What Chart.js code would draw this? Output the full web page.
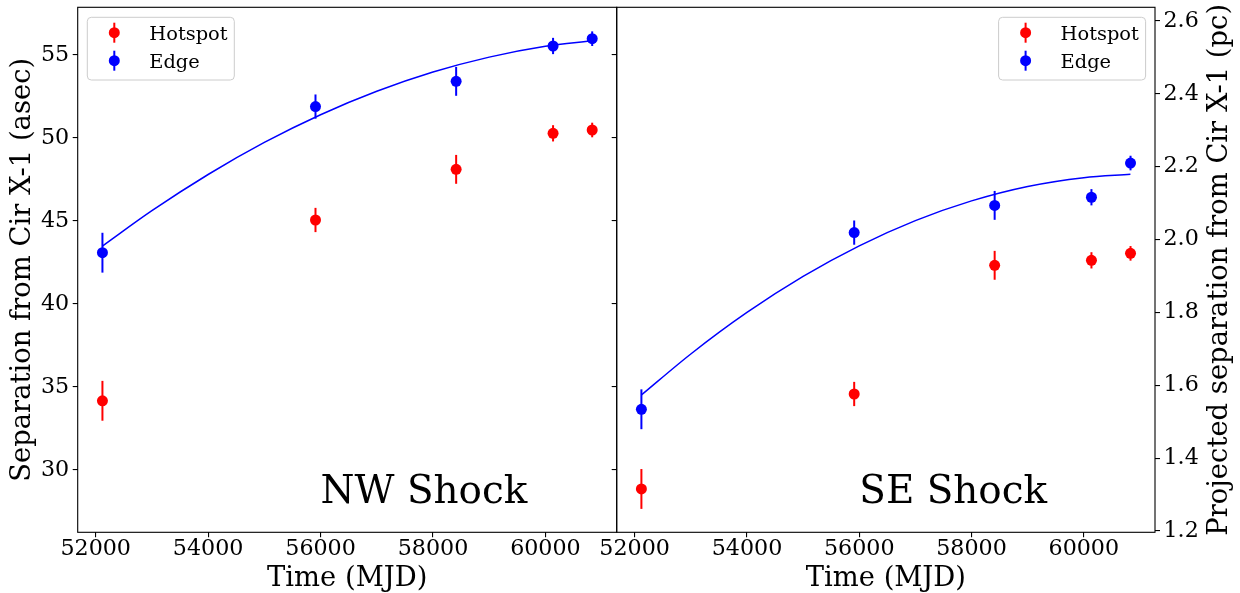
<!DOCTYPE html>
<html>
<head>
<meta charset="utf-8">
<title>Cir X-1 shock separation</title>
<script src="https://cdn.jsdelivr.net/npm/chart.js@4.4.1/dist/chart.umd.min.js"></script>
<style>
  html, body { margin: 0; padding: 0; background: #ffffff; }
  #wrap { position: relative; width: 1240px; height: 593px; }
  #wrap canvas { position: absolute; left: 0; top: 0; }
</style>
</head>
<body>
<div id="wrap">
  <canvas id="nw" width="1240" height="593"></canvas>
  <canvas id="se" width="1240" height="593"></canvas>
</div>
<script>
// Observation epochs (MJD) and the 1-sigma uncertainty of each epoch (arcsec)
const epochs = [52120, 55910, 58412, 60136, 60832];
const sepErr = [1.2, 0.73, 0.87, 0.49, 0.44];

// NW shock: separation from Cir X-1 (arcsec)
const nwHotspot = [34.17, 45.06, 48.11, 50.28, 50.48];
const nwEdge = [43.09, 51.89, 53.41, 55.54, 55.98];

// SE shock: separation from Cir X-1 (arcsec)
const seHotspot = [28.86, 34.58, 42.33, 42.63, 43.05];
const seEdge = [33.66, 44.30, 45.94, 46.43, 48.49];

// Decelerating fit to the edge positions
const fitEpochs = [52120, 53000, 54000, 55000, 56000, 57000, 58000, 59000, 60000, 60830];
const nwEdgeFit = [43.49, 45.62, 47.80, 49.73, 51.40, 52.81, 53.97, 54.87, 55.52, 55.86];
const seEdgeFit = [34.52, 36.99, 39.49, 41.66, 43.50, 45.02, 46.21, 47.08, 47.61, 47.81];

// Tick labels
const timeTicks = [52000, 54000, 56000, 58000, 60000];
const asecTicks = [30, 35, 40, 45, 50, 55];
const pcTicks = [1.2, 1.4, 1.6, 1.8, 2.0, 2.2, 2.4, 2.6];

// Axis limits
const timeMin = 51680, timeMax = 61268;
const asecMin = 26.25, asecMax = 57.87;
const PC_PER_ASEC = 9400 / 206265;   // projected scale at 9.4 kpc

const SERIF = "'DejaVu Serif', 'Liberation Serif', serif";
const RED = '#ff0000', BLUE = '#0000ff';

// Vertical error bars under the markers
const errorBars = {
  id: 'errorBars',
  beforeDatasetsDraw(chart) {
    const ctx = chart.ctx;
    chart.data.datasets.forEach(ds => {
      if (!ds.errors) return;
      const xs = chart.scales.x, ys = chart.scales[ds.yAxisID || 'y'];
      ctx.save();
      ctx.strokeStyle = ds.backgroundColor;
      ctx.lineWidth = 2;
      ds.data.forEach((p, i) => {
        const px = xs.getPixelForValue(p.x);
        ctx.beginPath();
        ctx.moveTo(px, ys.getPixelForValue(p.y - ds.errors[i]));
        ctx.lineTo(px, ys.getPixelForValue(p.y + ds.errors[i]));
        ctx.stroke();
      });
      ctx.restore();
    });
  }
};

// Frame, legend, panel label and axis titles
const decorations = {
  id: 'decorations',
  afterDraw(chart, args, opts) {
    const ctx = chart.ctx, a = chart.chartArea;
    ctx.save();
    // axes frame
    ctx.strokeStyle = '#000';
    ctx.lineWidth = 1.1;
    ctx.strokeRect(a.left, a.top, a.right - a.left, a.bottom - a.top);

    // legend
    const items = chart.data.datasets.filter(d => d.errors);
    const bw = 147, bh = 62.7;
    const bx = opts.legendRight ? a.right - 9.4 - bw : a.left + 9.6;
    const by = a.top + 10;
    ctx.beginPath();
    ctx.roundRect(bx, by, bw, bh, 4);
    ctx.fillStyle = 'rgba(255,255,255,0.8)';
    ctx.fill();
    ctx.strokeStyle = '#cccccc';
    ctx.lineWidth = 1;
    ctx.stroke();
    ctx.font = '19.4px ' + SERIF;
    ctx.textAlign = 'left';
    ctx.textBaseline = 'alphabetic';
    items.forEach((d, i) => {
      const cy = by + 15.4 + i * 28;
      const mx = bx + 27;
      ctx.strokeStyle = d.backgroundColor;
      ctx.lineWidth = 2;
      ctx.beginPath();
      ctx.moveTo(mx, cy - 10);
      ctx.lineTo(mx, cy + 10);
      ctx.stroke();
      ctx.fillStyle = d.backgroundColor;
      ctx.beginPath();
      ctx.arc(mx, cy, 5.5, 0, Math.PI * 2);
      ctx.fill();
      ctx.fillStyle = '#000';
      ctx.fillText(d.label, bx + 62, cy + 7.3);
    });

    // panel label
    ctx.fillStyle = '#000';
    ctx.font = '38.9px ' + SERIF;
    ctx.fillText(opts.panel, chart.scales.x.getPixelForValue(56000), chart.scales.y.getPixelForValue(28));

    // x title
    ctx.font = '27.4px ' + SERIF;
    ctx.textAlign = 'center';
    ctx.fillText('Time (MJD)', (a.left + a.right) / 2, 586);

    // y titles
    const midY = (a.top + a.bottom) / 2;
    ctx.textBaseline = 'middle';
    if (opts.leftTitle) {
      ctx.save();
      ctx.translate(23, midY);
      ctx.rotate(-Math.PI / 2);
      ctx.fillText(opts.leftTitle, 0, 0);
      ctx.restore();
    }
    if (opts.rightTitle) {
      ctx.save();
      ctx.translate(1220, midY);
      ctx.rotate(-Math.PI / 2);
      ctx.fillText(opts.rightTitle, 0, 0);
      ctx.restore();
    }
    ctx.restore();
  }
};

function fixedTicks(values) {
  return axis => { axis.ticks = values.map(v => ({ value: v })); };
}

// fixed axis box size, no extra room reserved for overhanging tick labels
function fixedSize(prop, size) {
  return s => {
    s[prop] = size;
    s.paddingTop = 0; s.paddingBottom = 0; s.paddingLeft = 0; s.paddingRight = 0;
  };
}

const tickGrid = { drawOnChartArea: false, drawTicks: true, tickLength: 5, color: '#000', lineWidth: 1.1 };
const tickFont = { family: SERIF, size: 22.2, lineHeight: 1 };

function timeAxis() {
  return {
    type: 'linear', position: 'bottom', min: timeMin, max: timeMax,
    afterBuildTicks: fixedTicks(timeTicks),
    afterFit: fixedSize('height', 60.7),
    grid: tickGrid, border: { display: false },
    ticks: { font: tickFont, color: '#000', padding: 1, maxRotation: 0, autoSkip: false,
             callback: v => String(v) }
  };
}

function buildDatasets(hotspot, edge, fit) {
  return [
    { label: 'fit', data: fitEpochs.map((x, i) => ({ x, y: fit[i] })),
      showLine: true, borderColor: BLUE, borderWidth: 1.5, pointRadius: 0,
      fill: false, cubicInterpolationMode: 'monotone', yAxisID: 'y' },
    { label: 'Hotspot', data: epochs.map((x, i) => ({ x, y: hotspot[i] })), errors: sepErr,
      backgroundColor: RED, borderColor: RED, pointRadius: 5.5, pointBorderWidth: 0, yAxisID: 'y' },
    { label: 'Edge', data: epochs.map((x, i) => ({ x, y: edge[i] })), errors: sepErr,
      backgroundColor: BLUE, borderColor: BLUE, pointRadius: 5.5, pointBorderWidth: 0, yAxisID: 'y' }
  ];
}

const common = { responsive: false, animation: false, events: [], devicePixelRatio: 1 };

// NW shock panel
new Chart(document.getElementById('nw'), {
  type: 'scatter',
  data: { datasets: buildDatasets(nwHotspot, nwEdge, nwEdgeFit) },
  options: Object.assign({}, common, {
    layout: { padding: { left: 0, top: 7.3, right: 623.3, bottom: 0 } },
    scales: {
      x: timeAxis(),
      y: {
        type: 'linear', position: 'left', min: asecMin, max: asecMax,
        afterBuildTicks: fixedTicks(asecTicks),
        afterFit: fixedSize('width', 77.7),
        grid: tickGrid, border: { display: false },
        ticks: { font: tickFont, color: '#000', padding: 3.5, callback: v => String(v) }
      }
    },
    plugins: {
      legend: { display: false }, tooltip: { enabled: false },
      decorations: { panel: 'NW Shock', legendRight: false,
                     leftTitle: 'Separation from Cir X-1 (asec)' }
    }
  }),
  plugins: [errorBars, decorations]
});

// SE shock panel, sharing the separation scale and adding the projected distance
new Chart(document.getElementById('se'), {
  type: 'scatter',
  data: { datasets: buildDatasets(seHotspot, seEdge, seEdgeFit) },
  options: Object.assign({}, common, {
    layout: { padding: { left: 0, top: 7.3, right: 0, bottom: 0 } },
    scales: {
      x: timeAxis(),
      y: {
        type: 'linear', position: 'left', min: asecMin, max: asecMax,
        afterBuildTicks: fixedTicks(asecTicks),
        afterFit: fixedSize('width', 616.7),
        grid: tickGrid, border: { display: false },
        ticks: { display: false }
      },
      pc: {
        type: 'linear', position: 'right',
        min: asecMin * PC_PER_ASEC, max: asecMax * PC_PER_ASEC,
        afterBuildTicks: fixedTicks(pcTicks),
        afterFit: fixedSize('width', 85),
        grid: tickGrid, border: { display: false },
        ticks: { font: tickFont, color: '#000', padding: 3.5, callback: v => v.toFixed(1) }
      }
    },
    plugins: {
      legend: { display: false }, tooltip: { enabled: false },
      decorations: { panel: 'SE Shock', legendRight: true,
                     rightTitle: 'Projected separation from Cir X-1 (pc)' }
    }
  }),
  plugins: [errorBars, decorations]
});
</script>
</body>
</html>
